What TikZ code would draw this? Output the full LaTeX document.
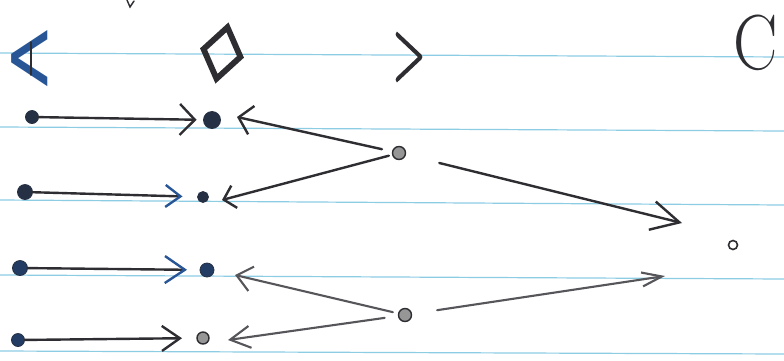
\documentclass[tikz,border=0pt]{standalone}
\usepackage{fontspec}
\newfontfamily\dvs{DejaVu Sans}
\newfontfamily\dvsb[FakeBold=4]{DejaVu Sans}
\newfontfamily\lmbold[FakeBold=2]{lmroman10-regular.otf}
\usetikzlibrary{arrows.meta}
\definecolor{ruleblue}{RGB}{140,205,228}
\definecolor{ink}{RGB}{45,45,50}
\definecolor{inklight}{RGB}{85,85,90}
\definecolor{inkblue}{RGB}{40,85,150}
\definecolor{dotnavy}{RGB}{38,48,68}
\definecolor{dotblue}{RGB}{35,60,100}
\definecolor{dotgray}{RGB}{150,150,150}
\begin{document}
\begin{tikzpicture}[x=1pt,y=-1pt,
  ruleline/.style={ruleblue, line width=1.2pt},
  sym/.style={inner sep=0pt, outer sep=0pt},
  dot/.style={circle, inner sep=0pt, outer sep=0pt, fill=dotnavy, draw=dotnavy, line width=0.8pt},
  graydot/.style={circle, inner sep=0pt, outer sep=0pt, fill=dotgray, draw=ink, line width=1.4pt},
  conn/.style={ink, line width=2.4pt, line cap=round, line join=round},
  connlight/.style={inklight, line width=2.1pt, line cap=round, line join=round}]
\useasboundingbox (0,0) rectangle (784,360);
\fill[white] (0,0) rectangle (784,360);
% ruled paper
\draw[ruleline] (0,53) -- (784,57);
\draw[ruleline] (0,127) -- (784,131);
\draw[ruleline] (0,200) -- (784,205);
\draw[ruleline] (0,275) -- (784,279);
\draw[ruleline] (0,351) -- (784,354);
% fragment at the top edge
\draw[ink, line width=1.4pt, line cap=round] (127,0) -- (130,7) -- (134,1);
% header symbols
\node[sym, text=inkblue, font=\dvs\fontsize{105}{105}\selectfont] (lt) at (30,61) {\scalebox{0.55}[1]{<}};
\draw[ink, line width=1.5pt, line cap=round] (31,42) -- (31,75);
\node[sym, text=ink, rotate=-12, font=\dvsb\fontsize{76}{76}\selectfont] (dm) at (222,53) {\scalebox{0.72}[1]{◇}};
\node[sym, text=ink, font=\lmbold\fontsize{84}{84}\selectfont] (gt) at (409,57) {\scalebox{0.5}[1]{>}};
\node[sym, text=ink, font=\fontsize{78}{78}\selectfont] (cc) at (756,43) {\scalebox{0.85}[1]{C}};
% dots
\node[dot, minimum size=13pt] (L1) at (32,117) {};
\node[dot, minimum size=17pt] (T1) at (212,120) {};
\node[dot, minimum size=15pt] (L2) at (25,192) {};
\node[dot, minimum size=11pt] (T2) at (203,197) {};
\node[dot, fill=dotblue, minimum size=15pt] (L3) at (20,268) {};
\node[dot, fill=dotblue, minimum size=14pt] (T3) at (207,270) {};
\node[dot, fill=dotblue, minimum size=13pt] (L4) at (18,340) {};
\node[graydot, minimum size=12pt] (T4) at (203,338) {};
\node[graydot, minimum size=13pt] (M1) at (399,153) {};
\node[graydot, minimum size=13pt] (M2) at (405,315) {};
\node[circle, inner sep=0pt, draw=ink, line width=1.6pt, minimum size=9pt] (R) at (733,245) {};
% free ends of connectors
\coordinate (h1) at (237,117);
\coordinate (h2) at (222,200);
\coordinate (h3) at (235,275);
\coordinate (h4) at (228,340);
\coordinate (hR1) at (682,223);
\coordinate (hR2) at (665,276);
% left column arrows
\draw[conn, shorten >=7pt, -{Straight Barb[length=15pt,width=31pt]}] (L1) -- (T1);
\draw[conn, shorten >=15pt, -{Straight Barb[length=15pt,width=22pt,color=inkblue]}] (L2) -- (T2);
\draw[conn, shorten >=13pt, -{Straight Barb[length=20pt,width=27pt,color=inkblue]}] (L3) -- (T3);
\draw[conn, shorten >=15pt, -{Straight Barb[length=18pt,width=25pt]}] (L4) -- (T4);
% arrows back from the middle dots
\draw[conn, shorten <=11pt, -{Straight Barb[length=13pt,width=29pt]}] (M1) -- (h1);
\draw[conn, shorten <=4pt, -{Straight Barb[length=11pt,width=23pt]}] (M1) -- (h2);
\draw[connlight, shorten <=6pt, -{Straight Barb[length=15pt,width=25pt]}] (M2) -- (h3);
\draw[connlight, shorten <=14pt, -{Straight Barb[length=20pt,width=22pt]}] (M2) -- (h4);
% arrows to the right
\draw[conn, shorten <=35pt, -{Straight Barb[length=28pt,width=29pt]}] (M1) -- (hR1);
\draw[connlight, shorten <=26pt, -{Straight Barb[length=20pt,width=14pt]}] (M2) -- (hR2);
\end{tikzpicture}
\end{document}
